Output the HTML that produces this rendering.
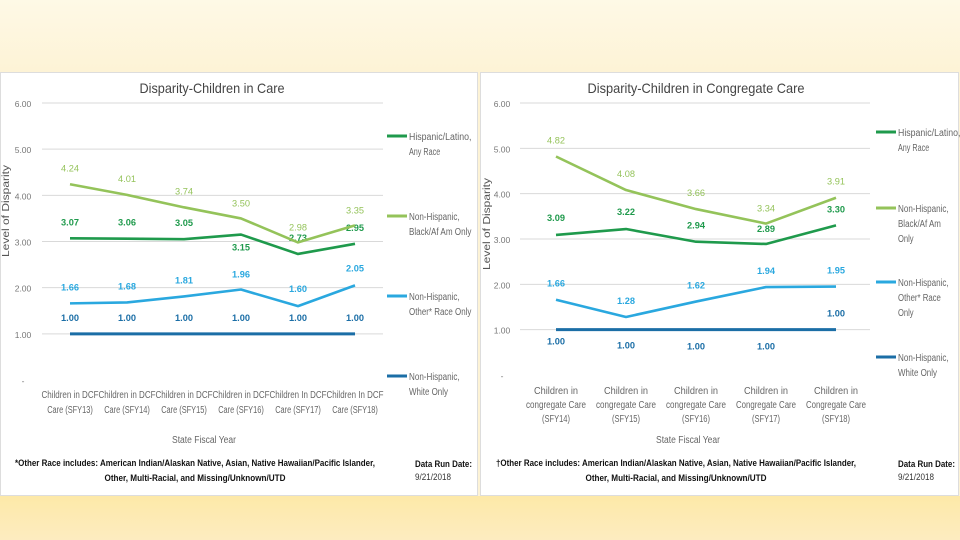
<!DOCTYPE html>
<html><head><meta charset="utf-8">
<style>
html,body{margin:0;padding:0}
body{width:960px;height:540px;position:relative;overflow:hidden;background:linear-gradient(#fef9e6,#fdf3d6 70px);font-family:"Liberation Sans",sans-serif}
#bottom{position:absolute;left:0;top:496px;width:960px;height:44px;background:linear-gradient(#fde9a8,#fdecc0)}
.panel{position:absolute;top:72px;height:424px;background:#fff;border:1px solid #ddd;box-sizing:border-box}
svg{position:absolute;left:0;top:0}
text{font-family:"Liberation Sans",sans-serif}
</style></head><body>
<div id="bottom"></div>
<div class="panel" style="left:0;width:478px"></div>
<div class="panel" style="left:480px;width:479px"></div>
<svg id="s" width="960" height="540"></svg>
<script>
const seriesNames=["Hispanic/Latino, Any Race","Non-Hispanic, Black/Af Am Only","Non-Hispanic, Other* Race Only","Non-Hispanic, White Only"];
const leftCategories=[["Children in DCF","Care (SFY13)"],["Children in DCF","Care (SFY14)"],["Children in DCF","Care (SFY15)"],["Children in DCF","Care (SFY16)"],["Children In DCF","Care (SFY17)"],["Children In DCF","Care (SFY18)"]];
const leftHispanic=[3.07,3.06,3.05,3.15,2.73,2.95];
const leftBlack=[4.24,4.01,3.74,3.50,2.98,3.35];
const leftOther=[1.66,1.68,1.81,1.96,1.60,2.05];
const leftWhite=[1.00,1.00,1.00,1.00,1.00,1.00];
const rightCategories=[["Children in","congregate Care","(SFY14)"],["Children in","congregate Care","(SFY15)"],["Children in","congregate Care","(SFY16)"],["Children in","Congregate Care","(SFY17)"],["Children in","Congregate Care","(SFY18)"]];
const rightHispanic=[3.09,3.22,2.94,2.89,3.30];
const rightBlack=[4.82,4.08,3.66,3.34,3.91];
const rightOther=[1.66,1.28,1.62,1.94,1.95];
const rightWhite=[1.00,1.00,1.00,1.00,1.00];
const yTicks=["-","1.00","2.00","3.00","4.00","5.00","6.00"];

const colors=["#1f9a4c","#94c35a","#2aa8df","#1b6ea6"];
const S=document.getElementById('s');
function el(t,a,txt){const e=document.createElementNS("http://www.w3.org/2000/svg",t);for(const k in a)e.setAttribute(k,a[k]);if(txt!==undefined)e.textContent=txt;S.appendChild(e);return e;}
function fit(e,len){e.setAttribute('textLength',len);e.setAttribute('lengthAdjust','spacingAndGlyphs');}

function chart(cfg){
  const y=v=>cfg.y0-v*(cfg.y0-cfg.y6)/6;
  const x=i=>cfg.xs+i*cfg.dx;
  let t=el('text',{x:cfg.titleX,y:93,'font-size':14,fill:'#444','text-anchor':'middle'},cfg.title);
  fit(t,cfg.titleLen);
  
  
  yTicks.forEach((lab,i)=>{
    if(i>0){let g=el('line',{x1:cfg.gx1,x2:cfg.gx2,y1:y(i),y2:y(i),stroke:'#d9d9d9','stroke-width':1});
    
    }
    let tl=el('text',{x:cfg.tickX,y:y(i)+4,'font-size':8.5,fill:'#777','text-anchor':'middle'},lab);
    
    
  });
  let yt=el('text',{x:0,y:0,'font-size':10,fill:'#555','text-anchor':'middle',transform:`translate(${cfg.yTitleX},${cfg.yTitleY}) rotate(-90)`},'Level of Disparity');
  fit(yt,92);
  
  
  cfg.cats.forEach((c,i)=>{
    c.forEach((ln,j)=>{let ct=el('text',{x:x(i),y:cfg.catY+j*cfg.catDy,'font-size':10,fill:'#666','text-anchor':'middle'},ln);
    fit(ct,ln.length*cfg.catCh);
    
    });
  });
  let xt=el('text',{x:cfg.titleX-8,y:443,'font-size':10,fill:'#666','text-anchor':'middle'},'State Fiscal Year');
  fit(xt,64);
  
  
  const order=[3,2,0,1];
  order.forEach(si=>{
    const d=cfg.data[si];
    const pts=d.map((v,i)=>x(i)+','+y(v)).join(' ');
    let pl=el('polyline',{points:pts,fill:'none',stroke:colors[si],'stroke-width':si==3?3:2.6,'stroke-linejoin':'round'});
    
    
    d.forEach((v,i)=>{
      const off=cfg.off[si][i];
      let lt=el('text',{x:x(i),y:y(v)+off,'font-size':9.5,'font-weight':si==1?'normal':'bold',fill:colors[si],'text-anchor':'middle'},v.toFixed(2));
      fit(lt,18);
      
      
    });
  });
  seriesNames.forEach((n,i)=>{
    const ly=cfg.legY[i];
    let ll=el('line',{x1:cfg.legX,x2:cfg.legX+20,y1:ly,y2:ly,stroke:colors[i],'stroke-width':3});
    
    
    cfg.legLines[i].forEach((s,j)=>{
      let lt=el('text',{x:cfg.legX+22,y:ly+4+j*15,'font-size':10,fill:'#666'},s);
      fit(lt,s.length*3.9);
      
      
    });
  });
  let f1=el('text',{x:cfg.footX,y:466,'font-size':9.5,'font-weight':'bold',fill:'#111','text-anchor':'middle'},cfg.foot1);
  fit(f1,360);
  
  
  let f2=el('text',{x:cfg.footX,y:481,'font-size':9.5,'font-weight':'bold',fill:'#111','text-anchor':'middle'},'Other, Multi-Racial, and Missing/Unknown/UTD');
  fit(f2,181);
  
  
  let d1=el('text',{x:cfg.dateX,y:467,'font-size':9.5,'font-weight':'bold',fill:'#111'},'Data Run Date:');
  fit(d1,57);
  
  
  let d2=el('text',{x:cfg.dateX,y:480,'font-size':9.5,fill:'#333'},cfg.date);
  fit(d2,36);
  
  
}

chart({title:'Disparity-Children in Care',titleX:212,titleLen:145,y0:380,y6:103,xs:70,dx:57,gx1:42,gx2:383,tickX:23,yTitleX:9,yTitleY:211,catY:398,catDy:15,catCh:3.8,
  cats:leftCategories,data:[leftHispanic,leftBlack,leftOther,leftWhite],
  off:[[-13,-13,-13,16,-13,-13],[-13,-13,-13,-12,-12,-12],[-13,-13,-13,-12,-14,-14],[-13,-13,-13,-13,-13,-13]],
  legX:387,legY:[136,216,296,376],legLines:[["Hispanic/Latino,","Any Race"],["Non-Hispanic,","Black/Af Am Only"],["Non-Hispanic,","Other* Race Only"],["Non-Hispanic,","White Only"]],
  footX:195,foot1:'*Other Race includes:  American Indian/Alaskan Native, Asian, Native Hawaiian/Pacific Islander,',dateX:415,date:'9/21/2018'});
chart({title:'Disparity-Children in Congregate Care',titleX:696,titleLen:217,y0:375,y6:103,xs:556,dx:70,gx1:520,gx2:870,tickX:502,yTitleX:490,yTitleY:224,catY:394,catDy:14,catCh:4.0,
  cats:rightCategories,data:[rightHispanic,rightBlack,rightOther,rightWhite],
  off:[[-14,-14,-13,-12,-13],[-13,-13,-13,-12,-13],[-13,-13,-13,-13,-13],[15,19,20,20,-13]],
  legY:[132,208,282,357],legX:876,legLines:[["Hispanic/Latino,","Any Race"],["Non-Hispanic,","Black/Af Am","Only"],["Non-Hispanic,","Other* Race","Only"],["Non-Hispanic,","White Only"]],
  footX:676,foot1:'\u2020Other Race includes:  American Indian/Alaskan Native, Asian, Native Hawaiian/Pacific Islander,',dateX:898,date:'9/21/2018'});
</script>
</body></html>
